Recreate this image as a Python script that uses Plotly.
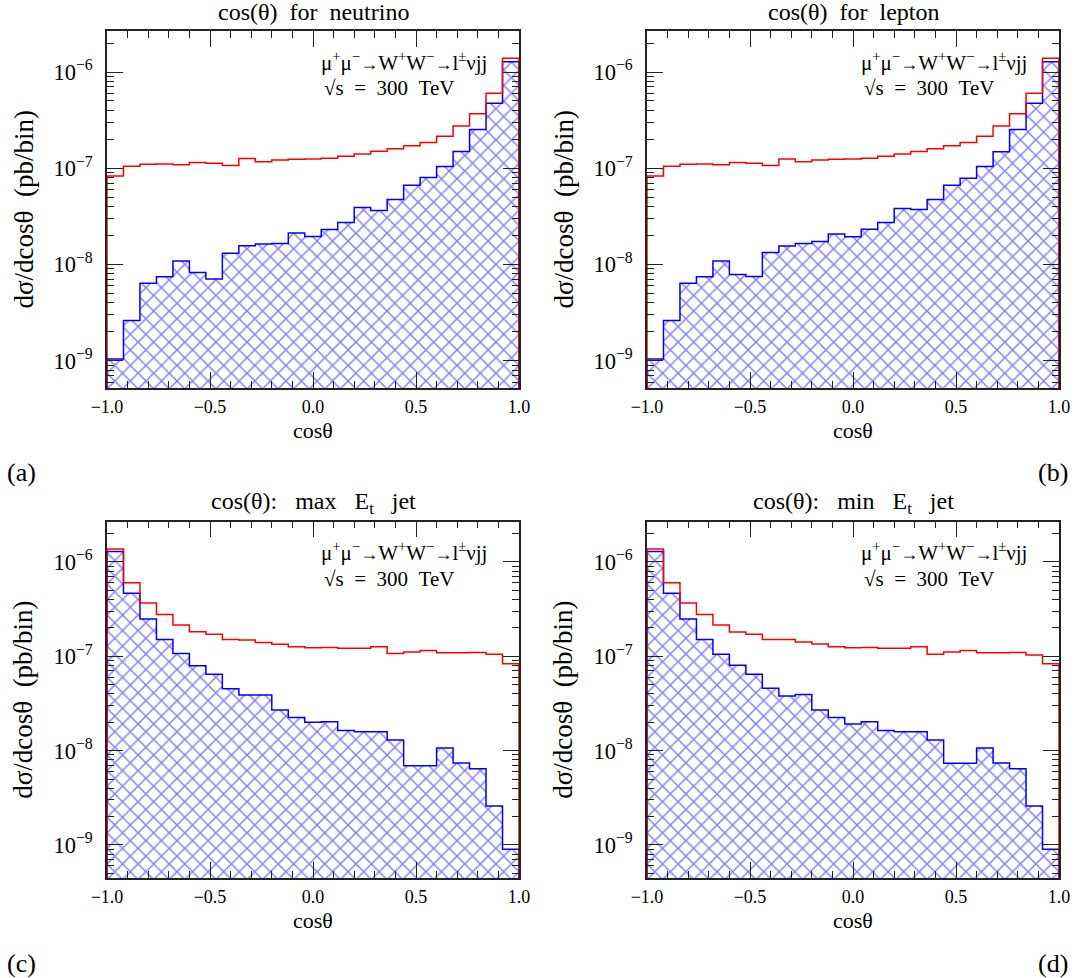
import plotly.graph_objects as go

W, H = 1075, 978

# ---------------- data ----------------
bin_edges = [-1.00, -0.92, -0.84, -0.76, -0.68, -0.60, -0.52, -0.44, -0.36, -0.28,
             -0.20, -0.12, -0.04, 0.04, 0.12, 0.20, 0.28, 0.36, 0.44, 0.52,
             0.60, 0.68, 0.76, 0.84, 0.92, 1.00]

# (a) cos(theta) for neutrino
nu_total = [8.32e-8, 1.05e-7, 1.10e-7, 1.11e-7, 1.09e-7, 1.15e-7, 1.13e-7, 1.07e-7, 1.26e-7, 1.17e-7,
            1.22e-7, 1.24e-7, 1.25e-7, 1.27e-7, 1.33e-7, 1.41e-7, 1.50e-7, 1.59e-7, 1.71e-7, 1.85e-7,
            2.15e-7, 2.75e-7, 3.69e-7, 6.01e-7, 1.39e-6]
nu_signal = [1.04e-9, 2.62e-9, 6.40e-9, 7.45e-9, 1.09e-8, 8.26e-9, 7.05e-9, 1.31e-8, 1.57e-8, 1.63e-8,
             1.65e-8, 2.13e-8, 1.95e-8, 2.31e-8, 2.73e-8, 3.91e-8, 3.64e-8, 4.73e-8, 6.67e-8, 8.00e-8,
             1.04e-7, 1.49e-7, 2.52e-7, 4.73e-7, 1.28e-6]

# (b) cos(theta) for lepton
lep_total = [8.32e-8, 1.05e-7, 1.10e-7, 1.11e-7, 1.09e-7, 1.15e-7, 1.13e-7, 1.07e-7, 1.25e-7, 1.17e-7,
             1.22e-7, 1.24e-7, 1.25e-7, 1.27e-7, 1.33e-7, 1.41e-7, 1.49e-7, 1.59e-7, 1.71e-7, 1.85e-7,
             2.15e-7, 2.75e-7, 3.69e-7, 6.01e-7, 1.39e-6]
lep_signal = [1.04e-9, 2.62e-9, 6.40e-9, 7.45e-9, 1.09e-8, 7.87e-9, 7.50e-9, 1.33e-8, 1.56e-8, 1.65e-8,
              1.73e-8, 2.07e-8, 1.94e-8, 2.33e-8, 2.73e-8, 3.81e-8, 3.72e-8, 4.73e-8, 6.67e-8, 7.87e-8,
              1.04e-7, 1.48e-7, 2.52e-7, 4.73e-7, 1.28e-6]

# (c) cos(theta): max Et jet
jmax_total = [1.37e-6, 6.04e-7, 3.67e-7, 2.77e-7, 2.15e-7, 1.82e-7, 1.71e-7, 1.51e-7, 1.49e-7, 1.40e-7,
              1.34e-7, 1.26e-7, 1.23e-7, 1.24e-7, 1.22e-7, 1.22e-7, 1.26e-7, 1.07e-7, 1.11e-7, 1.15e-7,
              1.09e-7, 1.09e-7, 1.10e-7, 1.05e-7, 8.36e-8]
jmax_signal = [1.29e-6, 4.66e-7, 2.49e-7, 1.51e-7, 1.07e-7, 7.96e-8, 6.44e-8, 4.54e-8, 3.89e-8, 3.89e-8,
               2.70e-8, 2.25e-8, 2.00e-8, 2.03e-8, 1.64e-8, 1.59e-8, 1.59e-8, 1.30e-8, 6.93e-9, 6.93e-9,
               1.07e-8, 7.40e-9, 6.44e-9, 2.59e-9, 8.99e-10]

# (d) cos(theta): min Et jet
jmin_total = [1.37e-6, 6.04e-7, 3.67e-7, 2.77e-7, 2.15e-7, 1.81e-7, 1.71e-7, 1.51e-7, 1.51e-7, 1.42e-7,
              1.35e-7, 1.26e-7, 1.23e-7, 1.24e-7, 1.22e-7, 1.22e-7, 1.26e-7, 1.05e-7, 1.11e-7, 1.15e-7,
              1.09e-7, 1.09e-7, 1.10e-7, 1.03e-7, 8.36e-8]
jmin_signal = [1.29e-6, 4.66e-7, 2.49e-7, 1.51e-7, 1.05e-7, 8.03e-8, 6.44e-8, 4.58e-8, 3.80e-8, 3.93e-8,
               2.70e-8, 2.25e-8, 1.92e-8, 2.03e-8, 1.64e-8, 1.59e-8, 1.59e-8, 1.30e-8, 7.34e-9, 7.34e-9,
               1.07e-8, 7.40e-9, 6.44e-9, 2.59e-9, 8.99e-10]

titles = ["cos(θ)  for  neutrino", "cos(θ)  for  lepton",
          "cos(θ):   max   E<sub>t</sub>   jet", "cos(θ):   min   E<sub>t</sub>   jet"]
panel_tags = ["(a)", "(b)", "(c)", "(d)"]
x_title = "cosθ"
y_title = "dσ/dcosθ  (pb/bin)"
ARROW = "<span style='font-size:18px'>→</span>"
process_text = ("μ<sup>+</sup>μ<sup>−</sup>" + ARROW + "W<sup>+</sup>W<sup>−</sup>" + ARROW
                + "l<sup>±</sup>νjj")
energy_text = "√s  =  300  TeV"
x_tickvals = [-1.0, -0.5, 0.0, 0.5, 1.0]
x_ticktext = ["−1.0", "−0.5", "0.0", "0.5", "1.0"]

BASE = 1e-10  # baseline below the visible axis range

# ---------------- layout geometry (pixels) ----------------
panels = [
    dict(total=nu_total, signal=nu_signal, x0=107, x1=519, y0=31, y1=388, yr=[-9.283, -5.574]),
    dict(total=lep_total, signal=lep_signal, x0=647, x1=1059, y0=31, y1=388, yr=[-9.283, -5.574]),
    dict(total=jmax_total, signal=jmax_signal, x0=107, x1=519, y0=521.7, y1=878, yr=[-9.35, -5.573]),
    dict(total=jmin_total, signal=jmin_signal, x0=647, x1=1059, y0=521.7, y1=878, yr=[-9.35, -5.573]),
]

SERIF = "Liberation Serif, Times New Roman, serif"
AX = "#222222"


def px(x):
    return x / W


def py(y):
    return 1 - y / H


def nb(s):
    return s.replace(" ", "\u00a0")


def step_path(vals):
    xs = [bin_edges[0]] + bin_edges[:-1] + [bin_edges[-1], bin_edges[-1]]
    ys = [BASE] + list(vals) + [vals[-1], BASE]
    return xs, ys


fig = go.Figure()
annotations = []

for i, p in enumerate(panels):
    n = "" if i == 0 else str(i + 1)
    xa, ya = "x" + n, "y" + n
    xs, ys = step_path(p["signal"])
    fig.add_trace(go.Scatter(
        x=xs, y=ys, xaxis=xa, yaxis=ya, mode="lines",
        line=dict(color="#0000ff", width=1.5, shape="hv"),
        fill="toself", fillcolor="white",
        fillpattern=dict(shape="x", size=11, solidity=0.25, fgcolor="#0000ff", bgcolor="white"),
        showlegend=False, hoverinfo="skip"))
    xs, ys = step_path(p["total"])
    fig.add_trace(go.Scatter(
        x=xs, y=ys, xaxis=xa, yaxis=ya, mode="lines",
        line=dict(color="#ff0000", width=1.5, shape="hv"),
        showlegend=False, hoverinfo="skip"))

    common = dict(showline=True, linecolor=AX, linewidth=1.5, mirror="ticks",
                  ticks="inside", ticklen=16, tickwidth=1.2, tickcolor=AX,
                  showgrid=False, zeroline=False, automargin=False)
    fig.layout["xaxis" + n] = dict(
        domain=[px(p["x0"]), px(p["x1"])], anchor=ya, range=[-1, 1],
        tickmode="array", tickvals=x_tickvals, ticktext=x_ticktext,
        tickfont=dict(family=SERIF, size=18, color="black"), ticklabelstandoff=2,
        minor=dict(dtick=0.1, tick0=0, ticks="inside", ticklen=7, tickwidth=1, tickcolor=AX, showgrid=False),
        **common)
    fig.layout["yaxis" + n] = dict(
        domain=[py(p["y1"]), py(p["y0"])], anchor=xa, type="log", range=p["yr"],
        tickmode="linear", tick0=0, dtick=1, exponentformat="power", showexponent="all",
        tickfont=dict(family=SERIF, size=18, color="black"), ticklabelstandoff=9,
        minor=dict(dtick="D1", ticks="inside", ticklen=7, tickwidth=1, tickcolor=AX, showgrid=False),
        **common)

    cx = (p["x0"] + p["x1"]) / 2
    # panel title
    annotations.append(dict(text=nb(titles[i]), x=px(cx), y=py(p["y0"] - 19), xref="paper", yref="paper",
                            showarrow=False, xanchor="center", yanchor="middle",
                            font=dict(family=SERIF, size=24, color="black")))
    # x-axis title
    annotations.append(dict(text=x_title, x=px(cx), y=py(p["y1"] + 42), xref="paper", yref="paper",
                            showarrow=False, xanchor="center", yanchor="middle",
                            font=dict(family=SERIF, size=22, color="black")))
    # y-axis title
    annotations.append(dict(text=nb(y_title), x=px(p["x0"] - 84), y=py((p["y0"] + p["y1"]) / 2),
                            xref="paper", yref="paper", showarrow=False, textangle=-90,
                            xanchor="center", yanchor="middle",
                            font=dict(family=SERIF, size=27, color="black")))
    # process text
    annotations.append(dict(text=process_text, x=px(p["x0"] + 212), y=py(p["y0"] + 30),
                            xref="paper", yref="paper", showarrow=False,
                            xanchor="left", yanchor="middle",
                            font=dict(family=SERIF, size=21, color="black")))
    annotations.append(dict(text=nb(energy_text), x=px(p["x0"] + 215), y=py(p["y0"] + 57),
                            xref="paper", yref="paper", showarrow=False,
                            xanchor="left", yanchor="middle",
                            font=dict(family=SERIF, size=21, color="black")))
    # panel tag
    tag_x = 21 if i % 2 == 0 else 1053
    annotations.append(dict(text=panel_tags[i], x=px(tag_x), y=py(p["y1"] + 85),
                            xref="paper", yref="paper", showarrow=False,
                            xanchor="center", yanchor="middle",
                            font=dict(family=SERIF, size=26, color="black")))

fig.update_layout(width=W, height=H, margin=dict(l=0, r=0, t=0, b=0, autoexpand=False),
                  paper_bgcolor="white", plot_bgcolor="white",
                  annotations=annotations, showlegend=False)

fig.write_html("out.html", config={"displayModeBar": False},
               post_script="document.body.style.margin='0px';")
